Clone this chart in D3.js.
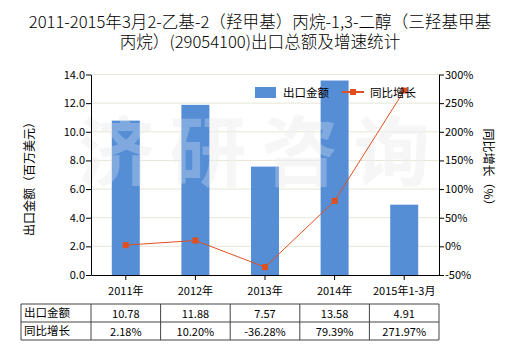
<!DOCTYPE html>
<html><head><meta charset="utf-8">
<script src="https://cdn.jsdelivr.net/npm/d3@7"></script>
<style>body{margin:0;background:#fff}svg{display:block}text{font-family:"Noto Sans CJK SC","Microsoft YaHei",sans-serif}</style>
</head><body><svg id="c" width="520" height="350"></svg>
<script>
const categories = ["2011年","2012年","2013年","2014年","2015年1-3月"];
const exportValues = [10.78, 11.88, 7.57, 13.58, 4.91];
const growthValues = [2.18, 10.20, -36.28, 79.39, 271.97];
const exportLabels = ["10.78","11.88","7.57","13.58","4.91"];
const growthLabels = ["2.18%","10.20%","-36.28%","79.39%","271.97%"];
const leftTicks = [0,2,4,6,8,10,12,14];
const rightTicks = [-50,0,50,100,150,200,250,300];
const titleLines = ["2011-2015年3月2-乙基-2（羟甲基）丙烷-1,3-二醇（三羟基甲基","丙烷）(29054100)出口总额及增速统计"];

const svg = d3.select("#c");
const L = 91, R = 439, T = 74.5, B = 275;
const x = d3.scaleBand().domain(categories).range([L, R]).paddingInner(0).paddingOuter(0);
const yL = d3.scaleLinear().domain([0,14]).range([B,T]);
const yR = d3.scaleLinear().domain([-50,300]).range([B,T]);
const barColor = "#558ed5", lineColor = "#e0501e";

// title
svg.append("g").selectAll("text").data(titleLines).join("text")
  .attr("x",260).attr("y",(d,i)=>28+i*20).attr("text-anchor","middle")
  .attr("font-size",16.6).attr("font-weight",300).attr("fill","#000").text(d=>d);

// gridlines
svg.append("g").selectAll("line").data(leftTicks.slice(1)).join("line")
  .attr("x1",L).attr("x2",R).attr("y1",d=>yL(d)).attr("y2",d=>yL(d))
  .attr("stroke","#e6e6d8").attr("stroke-width",1);

// watermark
svg.append("text").attr("x",262).attr("y",180).attr("text-anchor","middle")
  .attr("font-size",76).attr("font-weight","bold").attr("fill","#e4e4e4").attr("opacity",0.4)
  .attr("letter-spacing",16).text("济研咨询");

// bars
const bw = 28;
svg.append("g").selectAll("rect").data(exportValues).join("rect")
  .attr("x",(d,i)=>x(categories[i])+x.bandwidth()/2-bw/2).attr("width",bw)
  .attr("y",d=>yL(d)).attr("height",d=>B-yL(d)).attr("fill",barColor);

// watermark over bars (faint)
svg.append("text").attr("x",262).attr("y",180).attr("text-anchor","middle")
  .attr("font-size",76).attr("font-weight","bold").attr("fill","#ffffff").attr("opacity",0.25)
  .attr("letter-spacing",16).text("济研咨询");

// line
const line = d3.line().x((d,i)=>x(categories[i])+x.bandwidth()/2).y(d=>yR(d));
svg.append("path").datum(growthValues).attr("d",line).attr("fill","none")
  .attr("stroke",lineColor).attr("stroke-width",1);
svg.append("g").selectAll("rect").data(growthValues).join("rect")
  .attr("x",(d,i)=>x(categories[i])+x.bandwidth()/2-3).attr("y",d=>yR(d)-3)
  .attr("width",6).attr("height",6).attr("fill",lineColor);

// axes
const axL = svg.append("g").attr("transform",`translate(${L},0)`)
  .call(d3.axisLeft(yL).tickValues(leftTicks).tickFormat(d3.format(".1f")).tickSize(5).tickSizeOuter(0));
const axR = svg.append("g").attr("transform",`translate(${R},0)`)
  .call(d3.axisRight(yR).tickValues(rightTicks).tickFormat(d=>d+"%").tickSize(5).tickSizeOuter(0));
const axB = svg.append("g").attr("transform",`translate(0,${B})`)
  .call(d3.axisBottom(x).tickSize(5).tickSizeOuter(0));
[axL,axR,axB].forEach(a=>{
  a.selectAll("path,line").attr("stroke","#000");
  a.selectAll("text").attr("font-size",11).attr("fill","#000")
   .style("font-family","'Noto Sans CJK SC',sans-serif");
});
axL.selectAll("text").attr("x",-6);
axR.selectAll("text").attr("x",6);
axB.selectAll("text").attr("dy","1.1em");

// axis titles
svg.append("text").attr("transform","translate(34,176) rotate(-90)").attr("text-anchor","middle")
  .attr("font-size",12).text("出口金额（百万美元）");
svg.append("text").attr("transform","translate(484,170) rotate(90)").attr("text-anchor","middle")
  .attr("font-size",12).text("同比增长（%）");

// legend
const lg = svg.append("g");
lg.append("rect").attr("x",255).attr("y",87).attr("width",21).attr("height",11).attr("fill",barColor);
lg.append("text").attr("x",283).attr("y",97).attr("font-size",11.5).text("出口金额");
lg.append("line").attr("x1",342).attr("x2",364).attr("y1",92).attr("y2",92).attr("stroke",lineColor).attr("stroke-width",2);
lg.append("rect").attr("x",350).attr("y",89).attr("width",6).attr("height",6).attr("fill",lineColor);
lg.append("text").attr("x",370).attr("y",97).attr("font-size",11.5).text("同比增长");

// table
const tL = 21, tT = 304, rowH = 18;
const colX = [tL, ...categories.map(c=>x(c)), R];
const tg = svg.append("g");
const rows = [{label:"出口金额", vals:exportLabels},{label:"同比增长", vals:growthLabels}];
[0,1,2].forEach(r=>tg.append("line").attr("x1",tL).attr("x2",R).attr("y1",tT+r*rowH).attr("y2",tT+r*rowH).attr("stroke","#444").attr("stroke-width",1));
colX.forEach(cx=>tg.append("line").attr("x1",cx).attr("x2",cx).attr("y1",tT).attr("y2",tT+2*rowH).attr("stroke","#444").attr("stroke-width",1));
rows.forEach((row,r)=>{
  tg.append("text").attr("x",tL+3).attr("y",tT+r*rowH+13).attr("font-size",11.5).text(row.label);
  tg.selectAll(null).data(row.vals).join("text")
    .attr("x",(d,i)=>x(categories[i])+x.bandwidth()/2).attr("y",tT+r*rowH+14)
    .attr("text-anchor","middle").attr("font-size",11).text(d=>d);
});
</script></body></html>
